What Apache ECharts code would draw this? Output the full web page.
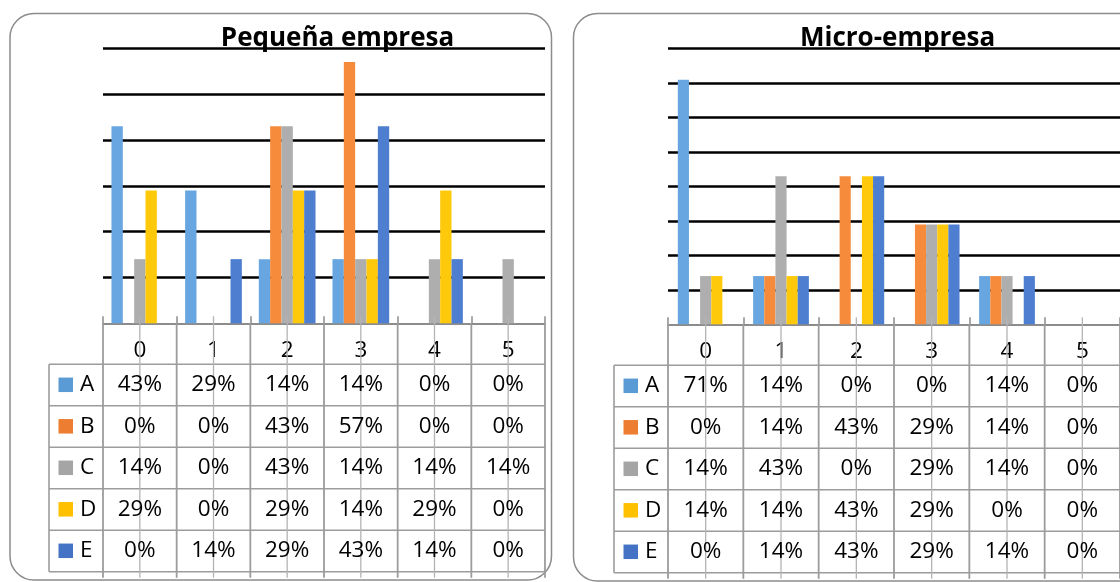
<!DOCTYPE html>
<html>
<head>
<meta charset="utf-8">
<script src="https://cdn.jsdelivr.net/npm/echarts@6/dist/echarts.min.js"></script>
<style>
  html, body { margin: 0; padding: 0; background: #ffffff; }
  #chart { width: 1120px; height: 582px; }
</style>
</head>
<body>
<div id="chart"></div>
<script>
// Categories shown along both x axes and as the table header
const categories = ['0', '1', '2', '3', '4', '5'];
const seriesNames = ['A', 'B', 'C', 'D', 'E'];

// Pequeña empresa – share (%) per category
const smallA = [43, 29, 14, 14, 0, 0];
const smallB = [0, 0, 43, 57, 0, 0];
const smallC = [14, 0, 43, 14, 14, 14];
const smallD = [29, 0, 29, 14, 29, 0];
const smallE = [0, 14, 29, 43, 14, 0];

// Micro-empresa – share (%) per category
const microA = [71, 14, 0, 0, 14, 0];
const microB = [0, 14, 43, 29, 14, 0];
const microC = [14, 43, 0, 29, 14, 0];
const microD = [14, 14, 43, 29, 0, 0];
const microE = [0, 14, 43, 29, 14, 0];

const panelTitles = ['Pequeña empresa', 'Micro-empresa'];

const panels = [
  { series: [smallA, smallB, smallC, smallD, smallE], yMax: 60 },
  { series: [microA, microB, microC, microD, microE], yMax: 80 }
];

const barColors = ['#67a6e0', '#f68b3b', '#aeaeae', '#ffc90b', '#4e7ed0'];
const keyColors = ['#5b9bd5', '#ed7d31', '#a5a5a5', '#ffc000', '#4472c4'];
const FONT = '"Open Sans", "Noto Sans", sans-serif';
const CELL_FONT_SIZE = 22.5;
const Y_STEP = 10;

const chart = echarts.init(document.getElementById('chart'), null, { renderer: 'canvas' });

const grids = [
  { left: 103, top: 48.3, width: 442, height: 275 },
  { left: 668, top: 48.7, width: 454, height: 275.6 }
];

function splitColors(max) {
  const n = max / Y_STEP + 1;
  const arr = [];
  for (let i = 0; i < n; i++) arr.push(i === 0 ? 'rgba(0,0,0,0)' : '#000000');
  return arr;
}

const option = {
  animation: false,
  backgroundColor: '#ffffff',
  grid: grids,
  xAxis: panels.map((p, i) => ({
    type: 'category',
    gridIndex: i,
    data: categories,
    boundaryGap: true,
    axisLine: { show: true, lineStyle: { color: '#8c8c8c', width: 2 } },
    axisTick: { show: true, inside: true, length: 7, lineStyle: { color: '#8c8c8c', width: 1.5 } },
    axisLabel: { show: true, margin: 16, fontSize: CELL_FONT_SIZE, color: '#000', fontFamily: FONT },
    splitLine: { show: false }
  })),
  yAxis: panels.map((p, i) => ({
    type: 'value',
    gridIndex: i,
    min: 0,
    max: p.yMax,
    interval: Y_STEP,
    axisLine: { show: false },
    axisTick: { show: false },
    axisLabel: { show: false },
    splitLine: { show: true, lineStyle: { color: splitColors(p.yMax), width: 2.5 } }
  })),
  series: []
};

panels.forEach((p, pi) => {
  p.series.forEach((data, si) => {
    option.series.push({
      type: 'bar',
      name: seriesNames[si],
      xAxisIndex: pi,
      yAxisIndex: pi,
      data: data,
      barGap: '0%',
      barCategoryGap: pi === 0 ? '23%' : '26%',
      itemStyle: { color: barColors[si] },
      silent: true
    });
  });
});

chart.setOption(option);

// Panel frames, titles and the data table beneath each chart
const graphics = [];
const titleCenters = [337.5, 897.6];
const frames = [
  { x: 10, y: 13.5, width: 541.5, height: 566.5 },
  { x: 573.5, y: 13.5, width: 600, height: 567.5 }
];

frames.forEach(f => {
  graphics.push({
    type: 'rect', z: 0,
    shape: { x: f.x, y: f.y, width: f.width, height: f.height, r: 24 },
    style: { fill: 'none', stroke: '#8c8c8c', lineWidth: 1.5 }
  });
});

const HEADER_H = 41;
const ROW_H = 41.5;
const KEY_W = 54;

panels.forEach((p, pi) => {
  const centers = categories.map((c, k) => chart.convertToPixel({ xAxisIndex: pi }, k));
  const band = centers[1] - centers[0];
  const axisY = chart.convertToPixel({ yAxisIndex: pi }, 0);
  const left = centers[0] - band / 2;
  const right = centers[centers.length - 1] + band / 2;
  const headBottom = axisY + HEADER_H;
  const tableBottom = headBottom + ROW_H * seriesNames.length;
  const keyLeft = left - KEY_W;
  const lineColor = '#9c9c9c';

  // title
  graphics.push({
    type: 'text', z: 10,
    x: titleCenters[pi], y: 39,
    style: {
      text: panelTitles[pi], fill: '#000', align: 'center', verticalAlign: 'middle',
      font: 'bold 26px ' + FONT
    }
  });

  // horizontal rules
  for (let r = 0; r <= seriesNames.length; r++) {
    const y = headBottom + r * ROW_H;
    graphics.push({
      type: 'line', z: 5,
      shape: { x1: keyLeft, y1: y, x2: right, y2: y },
      style: { stroke: lineColor, lineWidth: 1.6 }
    });
  }
  // key column left edge
  graphics.push({
    type: 'line', z: 5,
    shape: { x1: keyLeft, y1: headBottom, x2: keyLeft, y2: tableBottom },
    style: { stroke: lineColor, lineWidth: 1.6 }
  });
  // column boundaries, running from the axis down past the table
  for (let k = 0; k <= categories.length; k++) {
    const x = left + k * band;
    graphics.push({
      type: 'line', z: 5,
      shape: { x1: x, y1: axisY, x2: x, y2: tableBottom + 6 },
      style: { stroke: lineColor, lineWidth: 1.8 }
    });
  }
  // category centre ticks, continued through the table
  centers.forEach(cx => {
    graphics.push({
      type: 'line', z: 5,
      shape: { x1: cx, y1: axisY - 7, x2: cx, y2: tableBottom + 6 },
      style: { stroke: '#b4b4b4', lineWidth: 1.3 }
    });
  });

  // rows: key swatch, series letter and values
  seriesNames.forEach((name, si) => {
    const cy = headBottom + si * ROW_H + ROW_H / 2;
    graphics.push({
      type: 'rect', z: 6,
      shape: { x: keyLeft + 9.5, y: cy - 7.5, width: 14.5, height: 14.5 },
      style: { fill: keyColors[si] }
    });
    graphics.push({
      type: 'text', z: 6,
      x: keyLeft + 31, y: cy,
      style: { text: name, fill: '#000', align: 'left', verticalAlign: 'middle', font: CELL_FONT_SIZE + 'px ' + FONT }
    });
    p.series[si].forEach((v, k) => {
      graphics.push({
        type: 'text', z: 6,
        x: centers[k], y: cy,
        style: { text: v + '%', fill: '#000', align: 'center', verticalAlign: 'middle', font: CELL_FONT_SIZE + 'px ' + FONT }
      });
    });
  });
});

chart.setOption({ graphic: graphics });
</script>
</body>
</html>
